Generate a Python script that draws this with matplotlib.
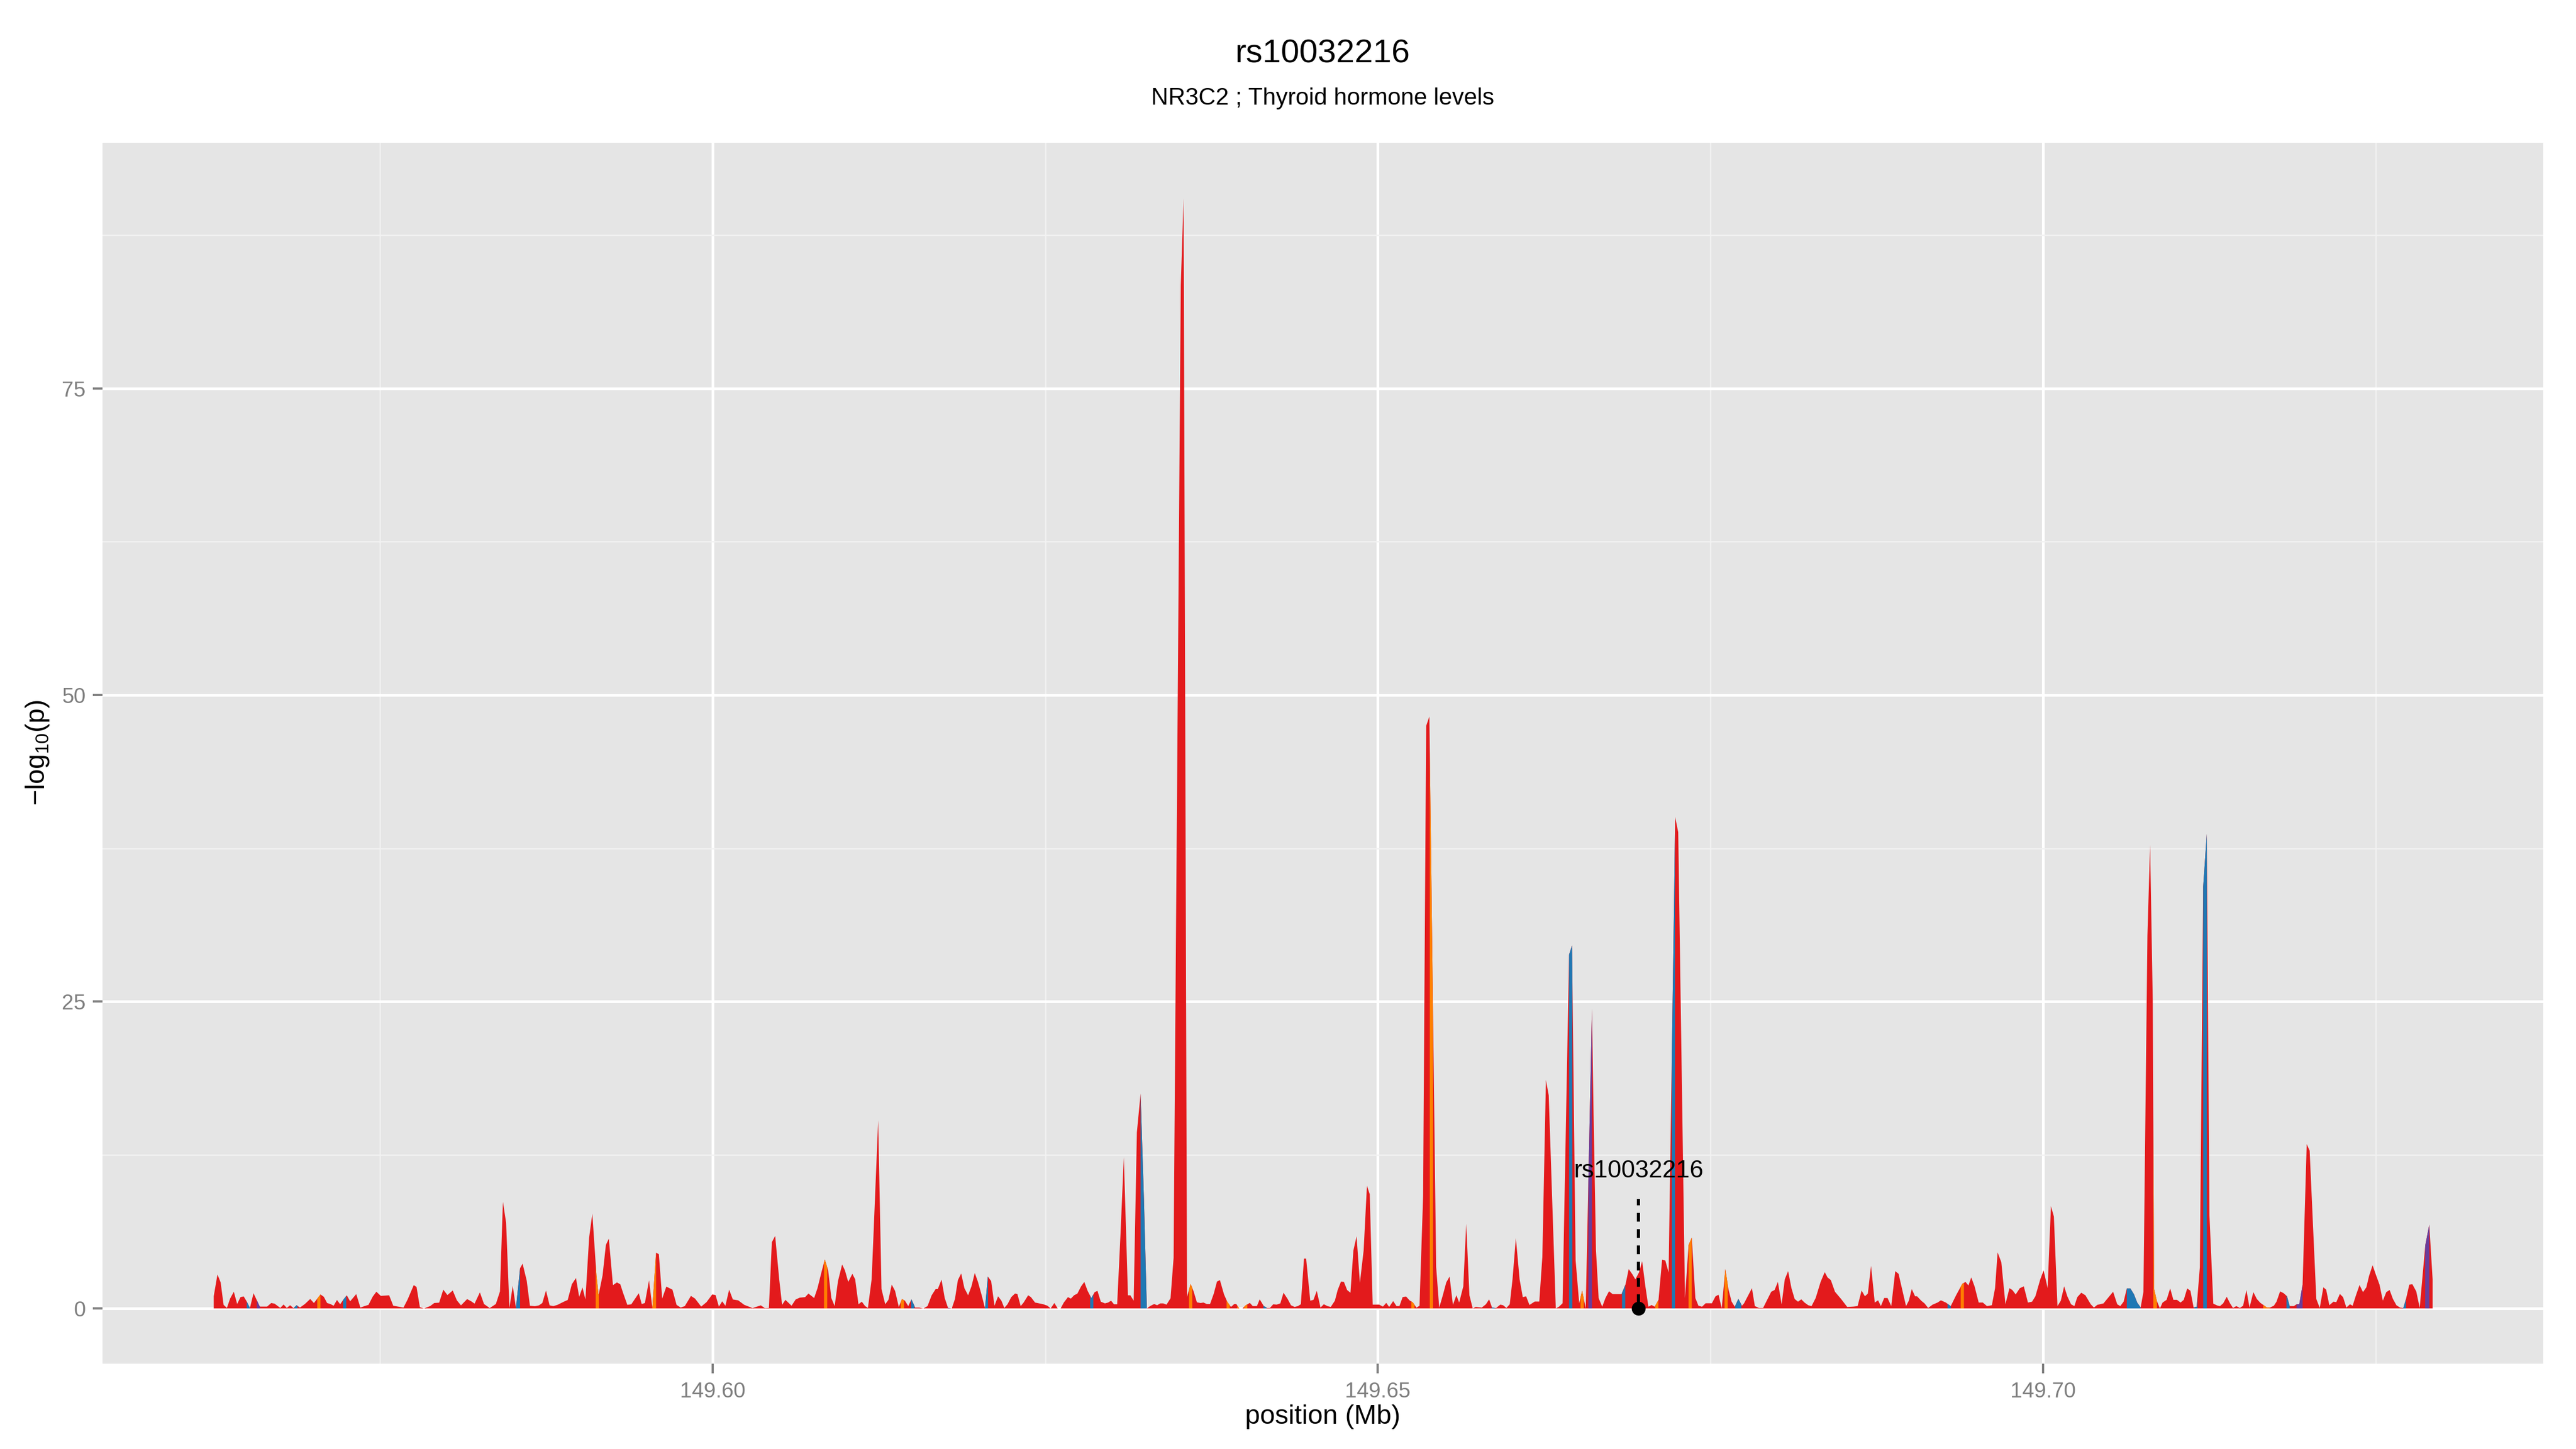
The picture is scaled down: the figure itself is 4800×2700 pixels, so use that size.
import numpy as np
import matplotlib
matplotlib.use("Agg")
import matplotlib.pyplot as plt

# ---------------- data ----------------
title = "rs10032216"
subtitle = "NR3C2 ; Thyroid hormone levels"
snp_label = "rs10032216"
snp_pos = 149.6696

positions = [
    149.5625, 149.56278, 149.56302, 149.56324, 149.56349, 149.56373, 149.56401, 149.56426, 149.56451, 149.56475,
    149.56497, 149.56522, 149.56549, 149.56596, 149.56651, 149.56682, 149.56707, 149.5675, 149.56775, 149.56799,
    149.56824, 149.56849, 149.56873, 149.56898, 149.56935, 149.56975, 149.57003, 149.57052, 149.57077, 149.57102,
    149.57126, 149.57151, 149.57176, 149.572, 149.57225, 149.5725, 149.57275, 149.57321, 149.57352, 149.57383,
    149.57413, 149.57444, 149.57472, 149.57506, 149.57568, 149.57599, 149.57676, 149.57707, 149.57753, 149.57774,
    149.57799, 149.5783, 149.57876, 149.57907, 149.57944, 149.57975, 149.58006, 149.58046, 149.58077, 149.58108,
    149.58154, 149.58185, 149.5821, 149.5825, 149.58281, 149.58324, 149.5837, 149.58401, 149.58423, 149.58447,
    149.58472, 149.58497, 149.58521, 149.58552, 149.58571, 149.58602, 149.58626, 149.58663, 149.58694, 149.58719,
    149.58747, 149.58774, 149.58802, 149.58833, 149.58879, 149.5891, 149.58941, 149.58972, 149.58996, 149.59021,
    149.59043, 149.59071, 149.59095, 149.59126, 149.59142, 149.59172, 149.59197, 149.59219, 149.5925, 149.5928,
    149.59305, 149.59327, 149.59358, 149.59388, 149.59444, 149.59466, 149.5949, 149.59521, 149.59546, 149.59574,
    149.59595, 149.5962, 149.59651, 149.59697, 149.59728, 149.59759, 149.5979, 149.59836, 149.59867, 149.59913,
    149.59953, 149.59996, 149.60021, 149.60046, 149.60071, 149.60095, 149.60123, 149.60151, 149.60191, 149.60237,
    149.60299, 149.60361, 149.60391, 149.60422, 149.60444, 149.60469, 149.60499, 149.60521, 149.60546, 149.60592,
    149.60623, 149.60654,
    149.60694, 149.60719, 149.60762, 149.60787, 149.60817, 149.60842, 149.60867, 149.60891, 149.60916, 149.60941,
    149.60972, 149.60993, 149.61018, 149.61049, 149.6107, 149.61095, 149.6112, 149.61145, 149.61166, 149.61194,
    149.61219, 149.61243, 149.61268, 149.61296, 149.6132, 149.61345, 149.6137, 149.61398, 149.61422, 149.61444,
    149.61469, 149.61493, 149.61521, 149.61552, 149.61583, 149.61614, 149.61645, 149.61675, 149.61691, 149.61719,
    149.61743, 149.61768, 149.61796, 149.6182, 149.61842, 149.61867, 149.61891, 149.61919, 149.61944, 149.61969,
    149.61993, 149.62021, 149.62046, 149.62067, 149.62092, 149.62117, 149.62144, 149.62169, 149.62191, 149.62215,
    149.62243, 149.62271, 149.62289, 149.62314, 149.62336, 149.6237, 149.62391, 149.62422, 149.62453, 149.62484,
    149.62515, 149.62539, 149.62567, 149.62592, 149.62614, 149.62638, 149.62669, 149.62691, 149.62715, 149.6274,
    149.62768, 149.62792, 149.62817, 149.62845, 149.6287, 149.62891, 149.62916, 149.62947, 149.62971, 149.62993,
    149.63015, 149.63039, 149.63064, 149.63089, 149.6312, 149.63138, 149.63163, 149.63187, 149.63215, 149.6324,
    149.63262, 149.63286, 149.63317, 149.63339, 149.63363, 149.63385, 149.6341, 149.6344, 149.63463, 149.63517,
    149.63538, 149.63564, 149.63591, 149.63613, 149.63638, 149.63666, 149.63687, 149.63712, 149.63737, 149.63765,
    149.63789, 149.63811, 149.63842, 149.63866, 149.63894, 149.63919, 149.63934, 149.63956, 149.63981, 149.64005,
    149.64036, 149.64058, 149.64089, 149.6411, 149.64141, 149.64166, 149.64187, 149.64212, 149.64237, 149.64265,
    149.64289, 149.6432, 149.64345, 149.64372, 149.64397, 149.64419, 149.64443, 149.64459, 149.6449, 149.64514,
    149.64539, 149.64567, 149.64592, 149.64619, 149.64644, 149.64675, 149.64696, 149.64721, 149.64743, 149.64767,
    149.64792, 149.64814, 149.64838, 149.64863, 149.64891, 149.64916, 149.64937, 149.64959, 149.64983, 149.65008,
    149.65036, 149.65061, 149.65083, 149.65113, 149.65138, 149.6516, 149.65184,
    149.6521, 149.65237, 149.65261, 149.65288, 149.65311, 149.65338, 149.65361, 149.65385, 149.65436, 149.65459,
    149.65486, 149.65512, 149.65537, 149.65562, 149.65588, 149.65609,
    149.6564, 149.65662, 149.65686, 149.65711, 149.65733, 149.65779, 149.6581, 149.65834, 149.65856, 149.65887,
    149.65918, 149.65939, 149.65964, 149.65989, 149.6601, 149.66035, 149.66063, 149.66087, 149.66112,
    149.66137, 149.66177, 149.66211, 149.66234, 149.66261, 149.66282, 149.66335, 149.66359, 149.66386, 149.66435,
    149.66457, 149.66484, 149.66511, 149.66533, 149.6656, 149.66607, 149.66618, 149.66637, 149.66657, 149.66684,
    149.66708, 149.66735, 149.66762, 149.66782, 149.66829, 149.66859, 149.66883, 149.6691, 149.66933, 149.6696,
    149.66984, 149.67008, 149.67031, 149.67055, 149.67078, 149.67107, 149.67134, 149.67158, 149.67183, 149.67223,
    149.67232, 149.67255, 149.67306, 149.67333, 149.67357, 149.67384, 149.67407, 149.67434, 149.67461, 149.67508,
    149.67535, 149.67558, 149.67582, 149.67609, 149.67633, 149.67656, 149.6768, 149.67707, 149.67734, 149.6775,
    149.67809, 149.67831, 149.67862, 149.67893, 149.67954, 149.67979, 149.68004, 149.68032, 149.68056, 149.68081,
    149.68106, 149.6813, 149.68155, 149.6818, 149.68204, 149.68232, 149.68257, 149.68288, 149.68325, 149.68356,
    149.68377, 149.68402, 149.68433, 149.68479, 149.68525, 149.68572, 149.68603, 149.68633, 149.68658, 149.6868,
    149.68704, 149.68732, 149.68757, 149.68778, 149.68803, 149.68828, 149.68856, 149.68886, 149.68911, 149.68942,
    149.68967, 149.68988, 149.6901, 149.69035, 149.6905, 149.69081, 149.69106, 149.69133, 149.69167, 149.69204,
    149.69229, 149.69266, 149.69303, 149.69343, 149.6939, 149.69414, 149.69436, 149.69457, 149.69482, 149.69513,
    149.69544, 149.69575, 149.69612, 149.69636, 149.69655, 149.69683, 149.69714, 149.69744, 149.69766, 149.69791,
    149.69822, 149.69852, 149.69883, 149.69914, 149.69939, 149.69976, 149.70001, 149.70031, 149.70056, 149.70078,
    149.70105, 149.7013, 149.70155, 149.70179, 149.70207, 149.70232, 149.70254, 149.70284, 149.70315,
    149.70355, 149.70379, 149.70404, 149.70451, 149.70478, 149.70523, 149.70554, 149.70577, 149.70602,
    149.70626, 149.70653, 149.7068, 149.70704, 149.7073, 149.70751, 149.70781, 149.70801, 149.70821, 149.70831,
    149.70852, 149.70875, 149.70895, 149.70925, 149.70952, 149.70976, 149.71003, 149.7103, 149.71054, 149.7108,
    149.71104, 149.71128, 149.71151, 149.71175, 149.712, 149.71227, 149.71247, 149.71276, 149.71305, 149.71326,
    149.7135, 149.71377, 149.71402, 149.71424, 149.71449, 149.71476, 149.715, 149.71525, 149.71548, 149.71577,
    149.71603, 149.7163, 149.71655, 149.71679, 149.71702, 149.71731, 149.71751, 149.71778, 149.71805, 149.7183,
    149.7185, 149.71881, 149.71902, 149.71922, 149.71947, 149.71978, 149.72, 149.7205, 149.72076, 149.72103,
    149.72124, 149.72148, 149.72179, 149.722, 149.72227, 149.72251, 149.72276, 149.72303, 149.72323, 149.72348,
    149.72375, 149.72401, 149.72426, 149.72447, 149.72473, 149.72498, 149.72525, 149.7255, 149.72576, 149.72601,
    149.72626, 149.72652, 149.72679, 149.72704, 149.72724, 149.72749, 149.72772, 149.72801, 149.72827, 149.72869,
    149.72899, 149.72924,
]

logp = [
    1.0, 2.77, 2.12, 0.29, 0.04, 0.8, 1.36, 0.36, 0.92, 0.98,
    0.58, 0.04, 1.24, 0.15, 0.15, 0.44, 0.39, 0.04, 0.32, 0.04,
    0.26, 0.03, 0.26, 0.07, 0.36, 0.77, 0.44, 1.14, 0.95, 0.44,
    0.36, 0.22, 0.69, 0.34, 0.73, 1.07, 0.58, 1.17, 0.07, 0.19,
    0.29, 0.95, 1.36, 1.02, 1.07, 0.22, 0.07, 0.73, 1.9, 1.75,
    0.1, 0.0, 0.19, 0.44, 0.47, 1.53, 1.09, 1.46, 0.66, 0.25,
    0.76, 0.58, 0.39, 1.31, 0.36, 0.03, 0.36, 1.39, 8.69, 7.0,
    0.04, 1.85, 0.04, 3.28, 3.65, 2.26, 0.22, 0.18, 0.25, 0.44,
    1.46, 0.25, 0.19, 0.29, 0.54, 0.69, 1.97, 2.48, 0.95, 1.71,
    0.73, 5.77, 7.74, 2.7, 1.09, 2.7, 5.18, 5.69, 1.9, 2.12,
    1.97, 1.24, 0.29, 0.34, 1.24, 0.36, 0.44, 2.29, 0.07, 4.55,
    4.42, 0.8, 1.78, 1.53, 0.29, 0.07, 0.19, 1.02, 0.8, 0.15,
    0.51, 1.14, 1.09, 0.15, 0.58, 0.22, 1.53, 0.73, 0.66, 0.29,
    0.03, 0.25, 0.03, 0.04, 5.4, 5.91, 2.41, 0.29, 0.7, 0.22,
    0.73, 0.88,
    0.92, 1.21, 0.85, 1.65, 2.96, 3.99, 3.11, 0.85, 0.19, 2.23,
    3.58, 3.11, 2.16, 2.82, 2.38, 0.34, 0.55, 0.19, 0.04, 2.38,
    8.95, 15.34, 1.58, 0.34, 0.7, 1.94, 1.43, 0.12, 0.77, 0.63,
    0.19, 0.74, 0.07, 0.07, 0.0, 0.19, 1.07, 1.58, 1.58, 2.35,
    0.85, 0.04, 0.0, 0.77, 2.31, 2.85, 1.65, 1.07, 1.8, 2.89,
    2.16, 1.07, 0.01, 2.6, 2.23, 0.22, 0.99, 0.63, 0.04, 0.34,
    0.92, 1.21, 1.18, 0.19, 0.48, 1.07, 0.92, 0.48, 0.41, 0.34,
    0.22, 0.0, 0.44, 0.0, 0.0, 0.48, 0.92, 0.8, 1.07, 1.21,
    1.8, 2.16, 1.43, 0.85, 1.33, 1.43, 0.55, 0.41, 0.48, 0.63,
    0.34, 0.34, 6.03, 12.34, 1.07, 1.07, 0.63, 14.35, 17.52, 8.95,
    0.0, 0.19, 0.36, 0.26, 0.41, 0.41, 0.31, 0.83, 4.12, 83.4,
    90.5, 0.94, 2.0, 1.4, 0.5, 0.44, 0.48, 0.36, 0.36, 1.21,
    2.19, 2.31, 1.14, 0.55, 0.12, 0.36, 0.36, 0.0, 0.0, 0.26,
    0.45, 0.19, 0.19, 0.74, 0.19, 0.04, 0.04, 0.34, 0.31, 0.41,
    1.28, 0.77, 0.26, 0.12, 0.19, 0.34, 4.06, 4.06, 0.63, 0.7,
    1.43, 0.07, 0.34, 0.19, 0.12, 0.63, 1.5, 2.19, 2.16, 1.5,
    1.28, 4.72, 5.88, 2.09, 4.72, 10.0, 9.31, 0.31, 0.31, 0.31,
    0.15, 0.45, 0.12, 0.6, 0.19, 0.19, 0.92,
    0.97, 0.65, 0.49, 0.06, 0.22, 9.17, 47.5, 48.26, 3.38, 0.06,
    1.07, 2.12, 2.6, 0.29, 1.07, 0.48,
    1.8, 6.9, 1.07, 0.0, 0.12, 0.07, 0.34, 0.74, 0.07, 0.04,
    0.31, 0.26, 0.04, 0.34, 2.38, 5.74, 2.38, 0.92, 0.99,
    0.28, 0.56, 0.56, 4.19, 18.63, 17.37, 0.0, 0.14, 0.42, 28.85,
    29.6, 3.91, 0.42, 1.45, 0.0, 24.44, 16.5, 4.75, 0.84, 0.14,
    0.84, 1.4, 1.17, 1.17, 1.17, 1.96, 3.21, 2.79, 2.37, 2.93,
    3.85, 1.82, 0.14, 0.28, 0.14, 0.7, 3.97, 3.91, 2.93, 32.5,
    40.08, 38.83, 0.84, 5.17, 5.78, 0.84, 0.22, 0.14, 0.42, 0.42,
    0.98, 1.12, 0.0, 3.21, 1.54, 0.56, 0.14, 0.78, 0.22, 0.42,
    1.65, 0.19, 0.04, 0.04, 1.36, 1.5, 2.16, 0.34, 2.38, 3.04,
    1.65, 0.77, 0.55, 0.74, 0.48, 0.26, 0.19, 0.85, 2.16, 2.96,
    2.53, 2.31, 1.36, 0.77, 0.12, 0.15, 0.19, 1.46, 0.99, 1.21,
    3.47, 0.48, 0.66, 0.19, 0.85, 0.85, 0.19, 3.04, 2.82, 1.36,
    0.19, 0.63, 1.58, 0.99, 0.99, 0.63, 0.41, 0.04, 0.31, 0.48,
    0.66, 0.48, 0.19, 1.07, 2.01, 2.16, 1.87, 2.53, 1.8, 0.48,
    0.48, 0.19, 0.26, 1.65, 4.57, 3.77, 0.34, 1.65, 1.5, 1.14,
    1.65, 1.8, 0.48, 0.55, 0.99, 2.38, 3.11, 1.65, 8.34, 7.49,
    0.19, 0.63, 1.8, 0.99, 0.34, 0.19, 0.92, 1.28, 1.07,
    0.34, 0.07, 0.29, 0.41, 0.77, 1.36, 0.34, 0.19, 0.55,
    1.63, 1.63, 1.15, 0.48, 0.08, 1.35, 30.4, 37.8, 25.1, 1.6,
    0.6, 0.0, 0.48, 0.7, 1.63, 0.7, 0.7, 0.48, 0.7, 1.63,
    1.44, 0.08, 0.14, 3.36, 34.4, 38.7, 7.6, 0.39, 0.24, 0.19,
    0.41, 0.95, 0.41, 0.04, 0.19, 0.04, 0.22, 1.5, 0.07, 1.33,
    0.77, 0.45, 0.26, 0.07, 0.07, 0.22, 0.55, 1.39, 1.24, 0.99,
    0.19, 0.19, 0.34, 0.34, 1.94, 13.4, 12.86, 0.77, 0.04, 1.72,
    1.53, 0.26, 0.55, 0.51, 1.18, 0.92, 0.07, 0.34, 0.22, 1.07,
    1.91, 1.33, 1.72, 2.67, 3.52, 2.74, 1.94, 0.63, 1.33, 1.5,
    0.77, 0.26, 0.07, 0.04, 0.77, 1.94, 1.97, 1.39, 0.04, 5.15,
    6.83, 2.38,
]

# SNP ranges that belong to the other LD groups (everything else is the red group)
ld_start = [149.56510, 149.56586, 149.56867, 149.57040, 149.57234, 149.58521, 149.59132, 149.59546,
            149.60848, 149.61425, 149.61503, 149.61777, 149.62046, 149.62848, 149.63215, 149.63591,
            149.63873, 149.63941, 149.64005, 149.64150, 149.65261, 149.65388, 149.65865, 149.66437,
            149.66533, 149.66580, 149.66845, 149.67094, 149.67208, 149.67333, 149.67615, 149.67683,
            149.69291, 149.69390, 149.70626, 149.70825, 149.71145, 149.71200, 149.71651, 149.71826,
            149.71902, 149.72700, 149.72868]
ld_end = [149.56510, 149.56586, 149.56867, 149.57040, 149.57234, 149.58552, 149.59132, 149.59574,
          149.60848, 149.61425, 149.61503, 149.61777, 149.62067, 149.62848, 149.63262, 149.63591,
          149.63873, 149.63965, 149.64005, 149.64150, 149.65261, 149.65412, 149.65865, 149.66457,
          149.66533, 149.66607, 149.66845, 149.67094, 149.67230, 149.67357, 149.67615, 149.67729,
          149.69291, 149.69390, 149.70730, 149.70852, 149.71145, 149.71227, 149.71700, 149.71850,
          149.71947, 149.72724, 149.72899]
ld_group = ["blue", "purple", "blue", "orange", "blue", "blue", "orange", "orange",
            "orange", "orange", "blue", "purple", "blue", "blue", "blue", "orange",
            "orange", "orange", "orange", "blue", "orange", "orange", "blue", "blue",
            "orange", "purple", "blue", "orange", "blue", "orange", "orange", "blue",
            "blue", "orange", "blue", "orange", "blue", "blue", "orange", "blue",
            "purple", "blue", "purple"]

x_ticks = [149.60, 149.65, 149.70]
x_tick_labels = ["149.60", "149.65", "149.70"]
y_ticks = [0, 25, 50, 75]

# ---------------- style ----------------
palette = {"red": "#E31A1C", "blue": "#1F78B4", "orange": "#FF7F00", "purple": "#6A3D9A"}
FONT = ["Liberation Sans", "DejaVu Sans"]
plt.rcParams["font.family"] = FONT
plt.rcParams["mathtext.fontset"] = "custom"
plt.rcParams["mathtext.rm"] = "Liberation Sans"
plt.rcParams["mathtext.it"] = "Liberation Sans"
plt.rcParams["mathtext.default"] = "regular"

x = np.array(positions)
y = np.array(logp)

fig = plt.figure(figsize=(16, 9), dpi=300)
ax = fig.add_axes([0.0398, 0.0589, 0.9475, 0.8426])
ax.set_facecolor("#E5E5E5")
for s in ax.spines.values():
    s.set_visible(False)

# limits with 5% expansion like ggplot
xr = x.max() - x.min()
yr = y.max() - 0
ax.set_xlim(x.min() - 0.05 * xr, x.max() + 0.05 * xr)
ax.set_ylim(0 - 0.05 * yr, y.max() + 0.05 * yr)

# grid
ax.set_xticks(x_ticks)
ax.set_xticklabels(x_tick_labels)
ax.set_yticks(y_ticks)
ax.set_xticks([149.575, 149.625, 149.675, 149.725], minor=True)
ax.set_yticks([12.5, 37.5, 62.5, 87.5], minor=True)
ax.grid(which="major", color="white", linewidth=1.2, zorder=0)
ax.grid(which="minor", color="#F2F2F2", linewidth=0.6, zorder=0)
ax.set_axisbelow(True)
ax.tick_params(which="minor", length=0)
ax.tick_params(which="major", length=4.3, width=1.0, color="#7F7F7F",
               labelcolor="#7F7F7F", labelsize=9.6)
ax.tick_params(axis="x", pad=3.6)
ax.tick_params(axis="y", pad=3.2)

# red area (full profile)
ax.fill_between(x, 0, y, color=palette["red"], linewidth=0, zorder=2)

# other LD groups as strips under the profile
min_half = 0.00012
for s, e, g in zip(ld_start, ld_end, ld_group):
    if e - s < 2 * min_half:
        c = 0.5 * (s + e)
        s, e = c - min_half, c + min_half
    inner = x[(x > s) & (x < e)]
    xs = np.concatenate([[s], inner, [e]])
    ys = np.interp(xs, x, y)
    ax.fill_between(xs, 0, ys, color=palette[g], linewidth=0, zorder=3)

# highlighted SNP
ax.plot([snp_pos, snp_pos], [0.4, 8.9], color="black", linestyle=(0, (2.8, 2.4)),
        linewidth=1.4, zorder=5)
ax.plot([snp_pos], [0], marker="o", markersize=5.2, color="black", zorder=6)
ax.text(snp_pos, 11.2, snp_label, ha="center", va="center", fontsize=11,
        color="black", zorder=6)

# titles and axis labels
cx = 0.0398 + 0.9475 / 2
fig.text(cx, 1 - 101 / 2700, title, ha="center", va="center", fontsize=14.8)
fig.text(cx, 1 - 184 / 2700, subtitle, ha="center", va="center", fontsize=10.6)
fig.text(cx, 1 - 2640 / 2700, "position (Mb)", ha="center", va="center", fontsize=12)
fig.text(70 / 4800, 1 - 1403 / 2700, r"$-log_{10}(p)$", ha="center", va="center",
         rotation=90, fontsize=12)

fig.savefig("out.png", dpi=300, facecolor="white")
